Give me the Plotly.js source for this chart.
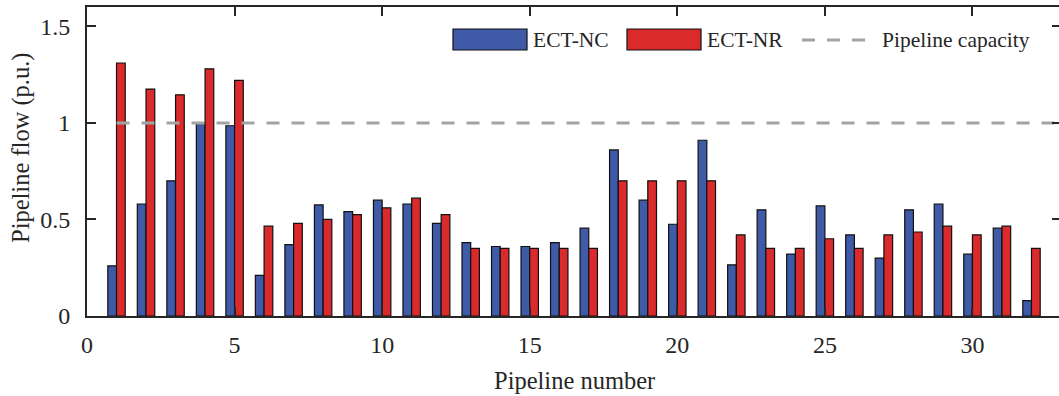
<!DOCTYPE html>
<html>
<head>
<meta charset="utf-8">
<script src="https://cdn.plot.ly/plotly-3.0.1.min.js"></script>
<style>
html,body{margin:0;padding:0;overflow:hidden;background:#fff;}
#chart{width:1061px;height:396px;}
</style>
</head>
<body>
<div id="chart"></div>
<script>
// ---- data ----
const pipelines = [1,2,3,4,5,6,7,8,9,10,11,12,13,14,15,16,17,18,19,20,21,22,23,24,25,26,27,28,29,30,31,32];
const ectNC = [0.26,0.58,0.70,1.00,0.985,0.21,0.37,0.575,0.54,0.60,0.58,0.48,0.38,0.36,0.36,0.38,0.455,0.86,0.60,0.475,0.91,0.265,0.55,0.32,0.57,0.42,0.30,0.55,0.58,0.32,0.455,0.08];
const ectNR = [1.31,1.175,1.145,1.28,1.22,0.465,0.48,0.50,0.525,0.56,0.61,0.525,0.35,0.35,0.35,0.35,0.35,0.70,0.70,0.70,0.70,0.42,0.35,0.35,0.40,0.35,0.42,0.435,0.465,0.42,0.465,0.35];
const capX = [1,33];
const capY = [1,1];
const xTicks = [0,5,10,15,20,25,30];
const yTicks = [0,0.5,1,1.5];
const yTickText = ['0','0.5','1','1.5'];

// ---- style ----
const BLUE = '#3F5BA8';
const RED = '#DB2A2B';
const GREY = '#9FA5A3';
const INK = '#262626';
const FONT = 'Liberation Serif';

const L = 87, R = 1061, T = 7, B = 316;
const px = x => (x - L) / (R - L);
const py = y => (B - y) / (B - T);

const traces = [
  {type:'bar', name:'ECT-NC', x:pipelines, y:ectNC,
   marker:{color:BLUE, line:{color:'#111', width:1.2}}, showlegend:false},
  {type:'bar', name:'ECT-NR', x:pipelines, y:ectNR,
   marker:{color:RED, line:{color:'#111', width:1.2}}, showlegend:false},
  {type:'scatter', mode:'lines', name:'Pipeline capacity', x:capX, y:capY,
   line:{color:GREY, width:3, dash:'13px,12px'}, showlegend:false}
];

const axisCommon = {
  showgrid:false, zeroline:false, showline:true, linecolor:INK, linewidth:2,
  mirror:'ticks', ticks:'inside', ticklen:9, tickwidth:2, tickcolor:INK,
  tickfont:{family:FONT, size:24, color:INK}
};

const legendShapes = [
  {type:'rect', xref:'paper', yref:'paper', x0:px(453), x1:px(527), y0:py(50), y1:py(29),
   fillcolor:BLUE, line:{color:'#111', width:1.2}},
  {type:'rect', xref:'paper', yref:'paper', x0:px(627), x1:px(701), y0:py(50), y1:py(29),
   fillcolor:RED, line:{color:'#111', width:1.2}},
  {type:'line', xref:'paper', yref:'paper', x0:px(802), x1:px(868), y0:py(40), y1:py(40),
   line:{color:GREY, width:3, dash:'13px,12px'}}
];

const ann = (text, x, y, size, extra) => Object.assign({
  text, xref:'paper', yref:'paper', x:px(x), y:py(y), showarrow:false,
  xanchor:'left', yanchor:'middle', font:{family:FONT, size, color:INK}
}, extra || {});

const layout = {
  width:1061, height:396,
  margin:{l:L, r:0, t:T, b:396-B, pad:0},
  paper_bgcolor:'#fff', plot_bgcolor:'#fff',
  font:{family:FONT, color:INK},
  barmode:'group', bargap:0.41, bargroupgap:0,
  showlegend:false,
  xaxis:Object.assign({}, axisCommon, {range:[0,33], tickvals:xTicks, ticklabelstandoff:6}),
  yaxis:Object.assign({}, axisCommon, {range:[0,1.6], tickvals:yTicks, ticktext:yTickText, ticklabelstandoff:10}),
  shapes:legendShapes,
  annotations:[
    ann('ECT-NC', 531, 40, 21.5),
    ann('ECT-NR', 705, 40, 21.5),
    ann('Pipeline capacity', 880, 40, 21.5),
    ann('Pipeline number', 574, 380, 24.5, {xanchor:'center'}),
    ann('Pipeline flow (p.u.)', 21, 148, 24.5, {xanchor:'center', textangle:-90})
  ]
};

Plotly.newPlot('chart', traces, layout, {staticPlot:true, displayModeBar:false});
</script>
</body>
</html>
